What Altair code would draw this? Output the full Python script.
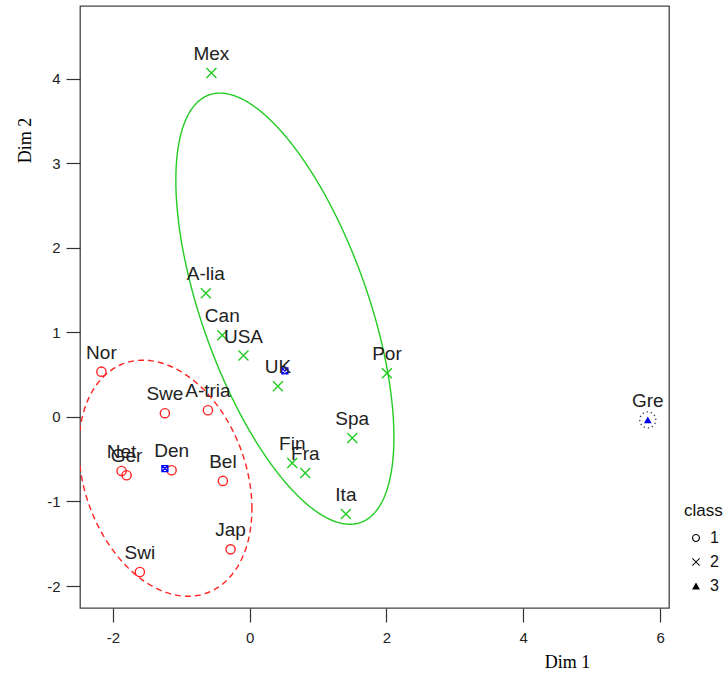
import altair as alt
import numpy as np
import pandas as pd

# ---- data ----
names = ["Nor", "Swe", "A-tria", "Net", "Ger", "Den", "Bel", "Jap", "Swi",
         "Mex", "A-lia", "Can", "USA", "UK", "Por", "Spa", "Fin", "Fra", "Ita",
         "Gre"]
dim1 = [-2.167, -1.239, -0.610, -1.872, -1.799, -1.141, -0.391, -0.279, -1.605,
        -0.559, -0.640, -0.400, -0.090, 0.413, 2.007, 1.500, 0.623, 0.813, 1.407,
        5.820]
dim2 = [0.535, 0.044, 0.079, -0.639, -0.690, -0.631, -0.757, -1.566, -1.834,
        4.067, 1.464, 0.967, 0.726, 0.363, 0.517, -0.248, -0.545, -0.662, -1.147,
        -0.035]
cls = ["1"] * 9 + ["2"] * 10 + ["3"]
class_levels = ["1", "2", "3"]

# blue marks (cluster medoid markers)
med_x = [-1.239, 0.515]
med_y = [-0.611, 0.544]

# cluster ellipses: centre, spreads, correlation
ell_cls = ["1", "2", "3"]
ell_cx = [-1.232, 0.515, 5.820]
ell_cy = [-0.725, 1.280, -0.035]
ell_sx = [1.265, 1.594, 0.117]
ell_sy = [1.396, 2.550, 0.095]
ell_rho = [-0.26, -0.596, 0.0]

X_DOMAIN = [-2.48, 6.13]
Y_DOMAIN = [-2.26, 4.86]

pts = pd.DataFrame({"name": names, "x": dim1, "y": dim2, "class": cls})
meds = pd.DataFrame({"x": med_x, "y": med_y})

rows = []
t = np.linspace(0, 2 * np.pi, 241)
for c, cx, cy, sx, sy, r in zip(ell_cls, ell_cx, ell_cy, ell_sx, ell_sy, ell_rho):
    ex = cx + sx * np.cos(t)
    ey = cy + sy * (r * np.cos(t) + np.sqrt(1 - r * r) * np.sin(t))
    for i, (a, b) in enumerate(zip(ex, ey)):
        rows.append({"class": c, "i": i, "x": a, "y": b})
ell = pd.DataFrame(rows)

xs = alt.Scale(domain=X_DOMAIN, nice=False, zero=False)
ys = alt.Scale(domain=Y_DOMAIN, nice=False, zero=False)

xaxis = alt.Axis(values=[-2, 0, 2, 4, 6], title="Dim 1", titleX=487, titleY=54,
                 titleAlign="center", titleBaseline="middle",
                 labelExpr="'' + datum.value")
yaxis = alt.Axis(values=[-2, -1, 0, 1, 2, 3, 4], title="Dim 2", titleX=-55,
                 titleY=134, titleAlign="center", titleBaseline="middle",
                 titleAngle=270, labelExpr="'' + datum.value")

X = alt.X("x:Q", scale=xs, axis=xaxis)
Y = alt.Y("y:Q", scale=ys, axis=yaxis)

XPATH = "M-1,-1L1,1M-1,1L1,-1"
SQX = "M-1,-1L1,-1L1,1L-1,1Z M-1,-1L1,1 M-1,1L1,-1"
RING = ("M1,0A1,1,0,1,1,-1,0A1,1,0,1,1,1,0Z"
        "M0.72,0A0.72,0.72,0,1,0,-0.72,0A0.72,0.72,0,1,0,0.72,0Z")
XPOLY = ("M-1,-0.84L-0.84,-1L0,-0.16L0.84,-1L1,-0.84L0.16,0L1,0.84L0.84,1"
         "L0,0.16L-0.84,1L-1,0.84L-0.16,0Z")

def ellipse_layer(c, color, dash, width):
    return alt.Chart(ell).transform_filter(alt.datum["class"] == c).mark_line(
        color=color, strokeDash=dash, strokeWidth=width, clip=True
    ).encode(x=X, y=Y, order="i:Q")

red_ell = ellipse_layer("1", "#FF2222", [6, 4], 1.4)
green_ell = ellipse_layer("2", "#22CC22", [1, 0], 1.4)
gre_ell = ellipse_layer("3", "#333355", [1.2, 3], 1.4)

base = alt.Chart(pts)

p1 = base.transform_filter(alt.datum["class"] == "1").mark_point(
    shape="circle", filled=False, size=85, color="#FF2222", strokeWidth=1.4,
    opacity=1).encode(x=X, y=Y)
p2 = base.transform_filter(alt.datum["class"] == "2").mark_point(
    shape=XPATH, filled=False, size=100, color="#22CC22", strokeWidth=1.4,
    opacity=1).encode(x=X, y=Y)
p3 = base.transform_filter(alt.datum["class"] == "3").mark_point(
    shape="triangle-up", filled=True, size=60, color="#0000EE",
    opacity=1).encode(x=X, y=Y)

medm = alt.Chart(meds).mark_point(
    shape=SQX, filled=False, size=36, color="#0000FF", strokeWidth=1.3,
    opacity=1).encode(x=X, y=Y)

labels = base.mark_text(
    dy=-13, fontSize=19, font="Liberation Sans", color="#222222",
    align="center", baseline="alphabetic").encode(x=X, y=Y, text="name:N")

legend_layer = base.transform_filter("false").mark_point(
    filled=True, color="black", opacity=1).encode(
    x=X, y=Y,
    shape=alt.Shape("class:N",
                    scale=alt.Scale(domain=class_levels,
                                    range=[RING, XPOLY, "triangle-up"]),
                    legend=alt.Legend(
                        title="class", orient="none", legendX=604, legendY=497,
                        padding=0, symbolSize=64, symbolOffset=4,
                        symbolFillColor="black", symbolStrokeColor="black",
                        symbolStrokeWidth=0, labelOffset=6,
                        titleFont="Liberation Sans", titleFontSize=17,
                        titleFontWeight="normal", titleColor="#111",
                        titlePadding=10, labelFont="Liberation Sans",
                        labelFontSize=16, labelColor="#111", rowPadding=8,
                    )))

chart = alt.layer(
    red_ell, green_ell, gre_ell, p1, p2, p3, medm, labels, legend_layer
).properties(
    width=589, height=602,
    autosize=alt.AutoSizeParams(type="none"),
    padding={"left": 80, "top": 6, "right": 57, "bottom": 65},
    background="white",
).configure_view(
    stroke="#444444", strokeWidth=1.3
).configure_axis(
    grid=False, domain=False, ticks=True, tickSize=14, tickColor="#333333",
    tickWidth=1.2, labelFont="Liberation Sans", labelFontSize=15,
    labelColor="#222222", titleFont="Liberation Serif", titleFontSize=18,
    titleFontWeight="normal", titleColor="#000000",
).configure_axisX(labelPadding=8).configure_axisY(labelPadding=6, labelAngle=0)

chart.save("out.html", embed_options={"renderer": "svg", "actions": False})
